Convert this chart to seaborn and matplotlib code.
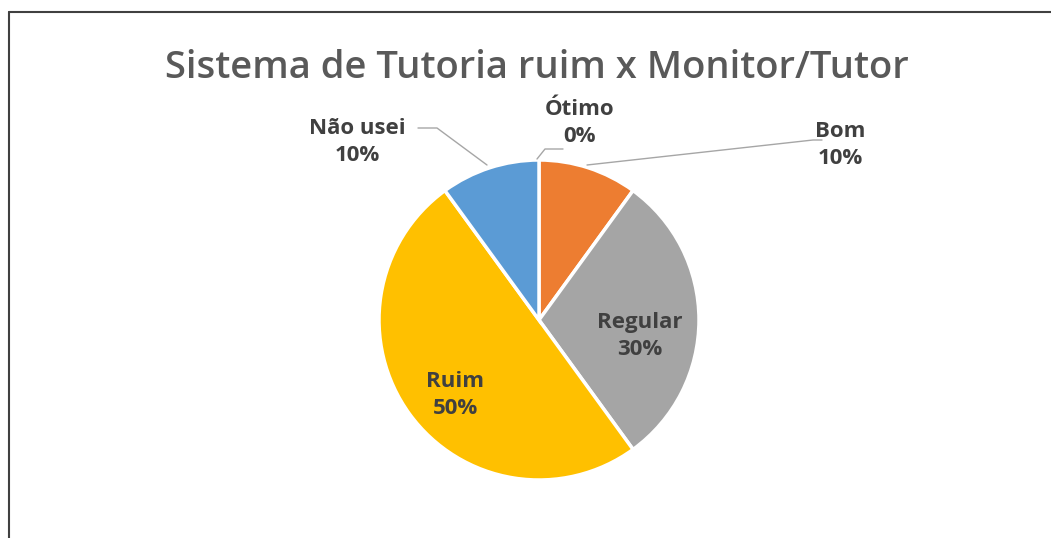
import matplotlib
matplotlib.use("Agg")
import matplotlib.pyplot as plt
import seaborn as sns
from matplotlib.lines import Line2D

categories = ["Ótimo", "Bom", "Regular", "Ruim", "Não usei"]
values = [0, 10, 30, 50, 10]
pct_labels = ["0%", "10%", "30%", "50%", "10%"]
colors = ["#4472C4", "#ED7D31", "#A5A5A5", "#FFC000", "#5B9BD5"]
title = "Sistema de Tutoria ruim x Monitor/Tutor"

sns.set_theme(style="white")
plt.rcParams['font.family'] = ['Open Sans', 'DejaVu Sans']

W, H = 1051, 538
fig = plt.figure(figsize=(W / 100, H / 100), dpi=100)
fig.patch.set_facecolor("white")

cx, cy, r = 539, 320, 160
ax = fig.add_axes([(cx - r) / W, (H - cy - r) / H, 2 * r / W, 2 * r / H])
ax.pie(values, colors=sns.color_palette(colors), startangle=90, counterclock=False,
       wedgeprops=dict(edgecolor="white", linewidth=2.5), radius=1.0)
ax.set_xlim(-1, 1)
ax.set_ylim(-1, 1)
ax.set_aspect("auto")
ax.axis("off")

def d(px, py):
    return ((px - cx) / r, (cy - py) / r)

txtc = "#404040"
fs = 16
ls = 1.4
# inside labels
ax.text(*d(640, 336), f"{categories[2]}\n{pct_labels[2]}", ha="center", va="center",
        fontsize=fs, fontweight="bold", color=txtc, linespacing=ls)
ax.text(*d(455, 395), f"{categories[3]}\n{pct_labels[3]}", ha="center", va="center",
        fontsize=fs, fontweight="bold", color=txtc, linespacing=ls)
# outside labels
ax.text(*d(580, 123), f"{categories[0]}\n{pct_labels[0]}", ha="center", va="center",
        fontsize=fs, fontweight="bold", color=txtc, linespacing=ls, clip_on=False)
ax.text(*d(840, 145), f"{categories[1]}\n{pct_labels[1]}", ha="center", va="center",
        fontsize=fs, fontweight="bold", color=txtc, linespacing=ls, clip_on=False)
ax.text(*d(357, 142), f"{categories[4]}\n{pct_labels[4]}", ha="center", va="center",
        fontsize=fs, fontweight="bold", color=txtc, linespacing=ls, clip_on=False)

lc = "#A6A6A6"
def leader(pts):
    xs, ys = zip(*[d(*p) for p in pts])
    ax.plot(xs, ys, color=lc, lw=1.0, clip_on=False)

leader([(487, 165), (437, 128), (418, 128)])
leader([(537, 159), (545, 149), (563, 149)])
leader([(587, 165), (813, 140), (822, 140)])

fig.text(537 / W, 1 - 68 / H, title, ha="center", va="center", fontsize=27.5,
         fontweight="semibold", color="#595959")

fig.add_artist(Line2D([9 / W, 1], [1 - 12 / H, 1 - 12 / H], color="#404040", lw=1.5,
                      transform=fig.transFigure))
fig.add_artist(Line2D([9 / W, 9 / W], [0, 1 - 12 / H], color="#404040", lw=1.5,
                      transform=fig.transFigure))

fig.savefig("out.png", dpi=100, facecolor="white")
